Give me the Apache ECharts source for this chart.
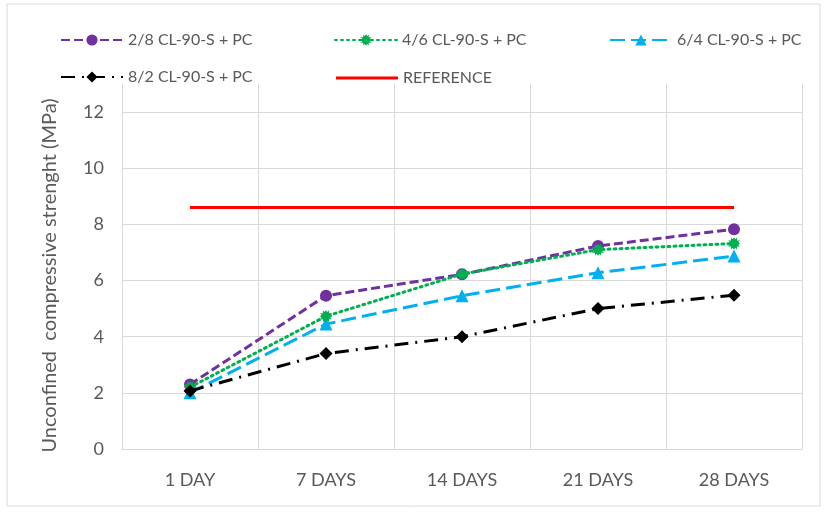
<!DOCTYPE html>
<html lang="en">
<head>
    <meta charset="UTF-8">
    <title>Unconfined compressive strength</title>
    <script src="https://cdn.jsdelivr.net/npm/echarts@6/dist/echarts.min.js"></script>
    <style>
        html, body { margin: 0; padding: 0; background: #fff; }
        #main { width: 827px; height: 515px; }
    </style>
</head>
<body>
    <div id="main"></div>
    <script>
        // values
        var days = ['1 DAY', '7 DAYS', '14 DAYS', '21 DAYS', '28 DAYS'];
        var mix28 = [2.3, 5.46, 6.22, 7.23, 7.83];
        var mix46 = [2.2, 4.73, 6.23, 7.1, 7.32];
        var mix64 = [2.0, 4.45, 5.46, 6.28, 6.87];
        var mix82 = [2.07, 3.4, 4.0, 5.0, 5.48];
        var reference = [8.6, 8.6, 8.6, 8.6, 8.6];

        var names = ['2/8 CL-90-S + PC', '4/6 CL-90-S + PC', '6/4 CL-90-S + PC', '8/2 CL-90-S + PC', 'REFERENCE'];

        var font = 'Lato, "Open Sans", sans-serif';
        var textColor = '#595959';
        var gridColor = '#d9d9d9';

        // jagged square marker for the green series
        var starPath = 'path://M0,2 L2,2 L2,0 L3,1.2 L4,0 L5,1.2 L6,0 L6,2 L8,2 L6.8,3 L8,4 L6.8,5 L8,6 L6,6 L6,8 L5,6.8 L4,8 L3,6.8 L2,8 L2,6 L0,6 L1.2,5 L0,4 L1.2,3 Z';

        function legendAt(name, left, top) {
            return {
                data: [name],
                left: left,
                top: top,
                itemWidth: 62,
                itemHeight: 14,
                textStyle: { color: textColor, fontSize: 16, fontFamily: font }
            };
        }

        var refLegend = legendAt(names[4], 331, 65);
        refLegend.data = [{ name: names[4], icon: 'rect' }];
        refLegend.itemHeight = 3;

        var chart = echarts.init(document.getElementById('main'));

        var option = {
            animation: false,
            textStyle: { fontFamily: font },
            graphic: [{
                type: 'rect',
                shape: { x: 7, y: 4, width: 813, height: 502 },
                style: { fill: 'none', stroke: gridColor, lineWidth: 1 },
                silent: true
            }],
            legend: [
                legendAt(names[0], 55, 27),
                legendAt(names[1], 329, 27),
                legendAt(names[2], 604, 27),
                legendAt(names[3], 55, 64),
                refLegend
            ],
            grid: { left: 122, right: 25, top: 84, bottom: 66 },
            xAxis: {
                type: 'category',
                data: days,
                boundaryGap: true,
                axisLine: { lineStyle: { color: gridColor } },
                axisTick: { show: false },
                axisLabel: { color: textColor, fontSize: 18, margin: 22, fontFamily: font },
                splitLine: { show: true, lineStyle: { color: gridColor } }
            },
            yAxis: {
                type: 'value',
                min: 0,
                max: 13,
                interval: 2,
                name: 'Unconfined  compressive strenght (MPa)',
                nameLocation: 'middle',
                nameGap: 62,
                nameTextStyle: { color: textColor, fontSize: 20, fontFamily: font, padding: [0, 18, 0, 0] },
                axisLine: { show: false },
                axisTick: { show: false },
                axisLabel: { color: textColor, fontSize: 18, margin: 18, showMaxLabel: false, fontFamily: font },
                splitLine: {
                    show: true,
                    lineStyle: { color: [gridColor, gridColor, gridColor, gridColor, gridColor, gridColor, gridColor, 'rgba(0,0,0,0)'] }
                }
            },
            series: [
                {
                    name: names[0], type: 'line', data: mix28, z: 5,
                    symbol: 'circle', symbolSize: 12,
                    itemStyle: { color: '#7030a0' },
                    lineStyle: { color: '#7030a0', width: 3, type: [9, 4] }
                },
                {
                    name: names[1], type: 'line', data: mix46, z: 6,
                    symbol: starPath, symbolSize: 12,
                    itemStyle: { color: '#00b050' },
                    lineStyle: { color: '#00b050', width: 3, type: [2, 4], cap: 'round' }
                },
                {
                    name: names[2], type: 'line', data: mix64, z: 4,
                    symbol: 'triangle', symbolSize: 13,
                    itemStyle: { color: '#00b0f0' },
                    lineStyle: { color: '#00b0f0', width: 3, type: [15, 6] }
                },
                {
                    name: names[3], type: 'line', data: mix82, z: 7,
                    symbol: 'diamond', symbolSize: 13,
                    itemStyle: { color: '#000000' },
                    lineStyle: { color: '#000000', width: 3, type: [14, 7, 2, 7] }
                },
                {
                    name: names[4], type: 'line', data: reference, z: 3,
                    symbol: 'none',
                    itemStyle: { color: '#ff0000' },
                    lineStyle: { color: '#ff0000', width: 3, type: 'solid' }
                }
            ]
        };

        chart.setOption(option);
    </script>
</body>
</html>
